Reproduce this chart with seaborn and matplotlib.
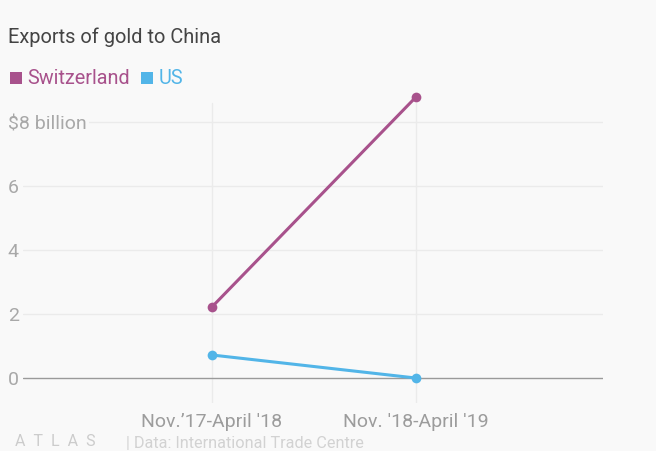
import matplotlib
matplotlib.use("Agg")
import matplotlib.pyplot as plt
import seaborn as sns
import pandas as pd
from matplotlib.lines import Line2D

# --- DATA ---
periods = ["Nov.\u201917-April '18", "Nov. '18-April '19"]
switzerland = [2.22, 8.78]
us = [0.72, 0.0]
countries = ["Switzerland", "US"]
colors = ["#a8528c", "#52b5e8"]
yticks = [0, 2, 4, 6, 8]
ytick_labels = ["0", "2", "4", "6", "$8 billion"]

BG = "#f9f9f9"

df = pd.DataFrame({
    "period": periods * 2,
    "value": switzerland + us,
    "country": [countries[0]] * 2 + [countries[1]] * 2,
})

sns.set_theme(style="white")
plt.rcParams["font.family"] = ["Roboto", "DejaVu Sans"]

fig = plt.figure(figsize=(6.56, 4.51), dpi=100, facecolor=BG)
W, H = 656, 451
ax = fig.add_axes([23 / W, 48 / H, (603 - 23) / W, (403 - 90) / H])
ax.set_facecolor(BG)

# grid
for y in yticks:
    if y == 0:
        ax.axhline(y, color="#9a9a9a", lw=1.0, zorder=1)
    else:
        ax.axhline(y, color="#ebebeb", lw=1.0, zorder=0)

sns.lineplot(data=df, x="period", y="value", hue="country", palette=colors,
             marker="o", markersize=7, markeredgewidth=0, linewidth=2.2,
             legend=False, ax=ax, zorder=3)

ax.set_xlim(-0.926, 1.917)
ax.set_ylim(-0.78, 9.0)
ymax_frac = (8.6 + 0.78) / (9.0 + 0.78)
for i in range(len(periods)):
    ax.axvline(i, ymin=0, ymax=ymax_frac, color="#ebebeb", lw=1.0, zorder=0)

for s in ax.spines.values():
    s.set_visible(False)

ax.set_xlabel("")
ax.set_ylabel("")
ax.set_xticks(range(len(periods)))
ax.set_xticklabels(periods)
ax.set_yticks(yticks)
ax.set_yticklabels(ytick_labels)
ax.tick_params(axis="x", length=0, pad=7, labelsize=14, labelcolor="#9c9c9c")
ax.tick_params(axis="y", length=0, pad=11, labelsize=14, labelcolor="#a8a8a8")
for lab in ax.get_yticklabels():
    lab.set_horizontalalignment("left")
    lab.set_bbox(dict(facecolor=BG, edgecolor="none", pad=1.5))
    lab.set_zorder(5)

# title
fig.text(8 / W, 1 - 37 / H, "Exports of gold to China", fontsize=14.4,
         color="#444444", va="center", ha="left")

# legend
handles = [Line2D([], [], marker="s", linestyle="none", markersize=8,
                  markerfacecolor=c, markeredgewidth=0) for c in colors]
leg = fig.legend(handles, countries, loc="center left",
                 bbox_to_anchor=(2 / W, 1 - 79 / H), frameon=False, ncol=2,
                 handlelength=0.6, handletextpad=0.25, columnspacing=0.6,
                 fontsize=14.3, borderaxespad=0)
for t, c in zip(leg.get_texts(), colors):
    t.set_color(c)

# footer
fig.text(15 / W, 1 - 441 / H, "A  T  L  A  S", fontsize=11.5, color="#cccccc",
         va="center", ha="left")
fig.text(126 / W, 1 - 444 / H, "| Data: International Trade Centre",
         fontsize=11.7, color="#d2d2d2", va="center", ha="left")

fig.savefig("out.png", dpi=100, facecolor=BG)
